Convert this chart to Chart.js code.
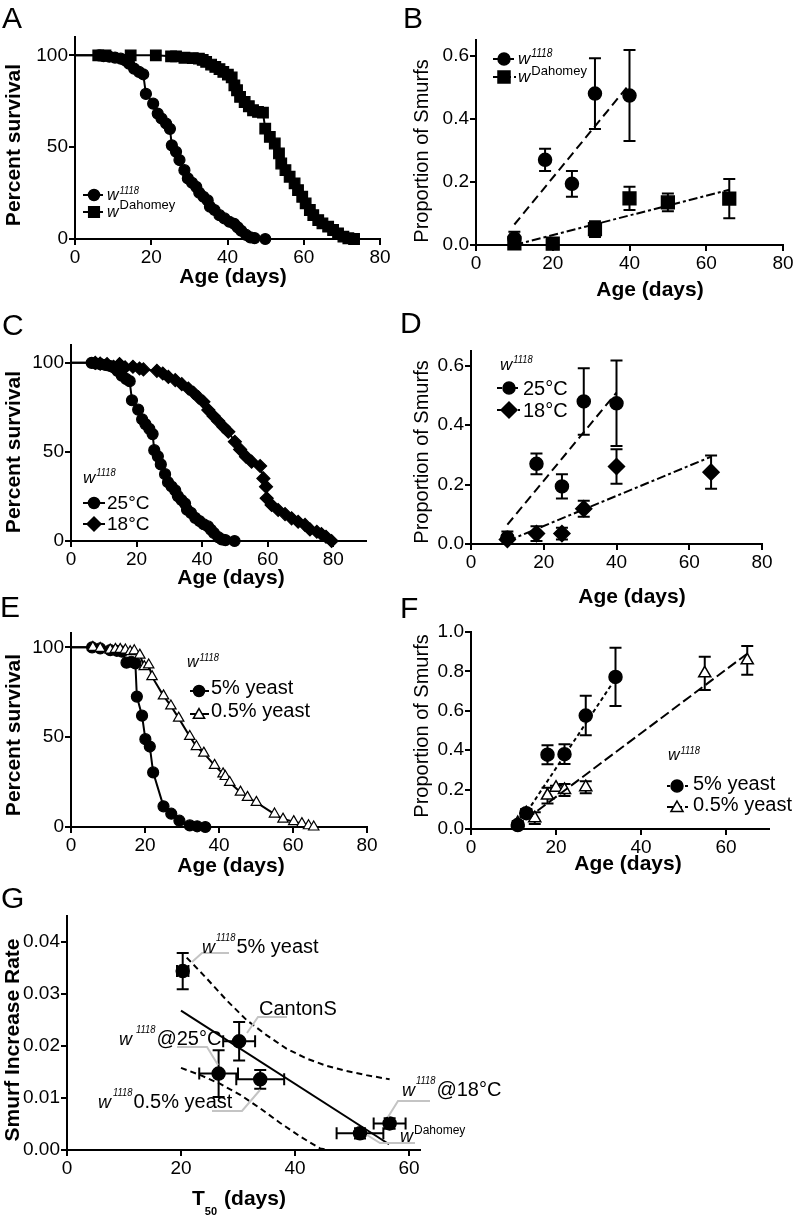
<!DOCTYPE html>
<html>
<head>
<meta charset="utf-8">
<script src="https://cdn.jsdelivr.net/npm/chart.js@4.4.1/dist/chart.umd.min.js"></script>
<style>
  body { margin: 0; background: #fff; width: 796px; height: 1218px; position: relative; overflow: hidden; }
  canvas { position: absolute; left: 0; top: 0; }
</style>
</head>
<body>
<canvas id="A" width="796" height="1218"></canvas>
<canvas id="B" width="796" height="1218"></canvas>
<canvas id="C" width="796" height="1218"></canvas>
<canvas id="D" width="796" height="1218"></canvas>
<canvas id="E" width="796" height="1218"></canvas>
<canvas id="F" width="796" height="1218"></canvas>
<canvas id="G" width="796" height="1218"></canvas>
<script>
// ---- survival data (A, C, E) ----
const age25 = [6.3,7.5,9,10.5,12,13.2,14.2,15.5,16.8,17.9,18.6,20.5,21.7,22.7,23.9,24.9,25.4,26.5,27.4,28.7,29.6,30.7,31.8,32.6,33.7,34.8,35.4,36.6,37.9,39.2,40.5,41.8,42.7,43.6,44.9,46,47.1,49.9];
const surv25 = [100,99.6,99.3,98.8,98.2,97.3,95.5,92.8,91,89.7,79,73.7,68.3,65.6,62.9,60,51,47.5,43,37.5,33,30.6,28.4,25.2,23,21,17.6,15.8,13,11.2,9.4,8.2,6.3,4.5,2.2,0.9,0.5,0];
const ageDah = [6.1,8,14.6,21.2,25.2,26.5,28.7,30.9,32.5,33.5,34.4,35.7,36.8,37.9,38.9,40.1,41.1,41.8,42.5,43.3,44.5,45.6,46.7,48,49.3,49.9,51.1,52.4,53.5,54.1,55.2,56.3,57.6,58.5,59.6,60.5,61.6,62.5,63.8,64.9,66.4,67.7,69,70.4,71.7,73.2];
const survDah = [100,100,100,100,99.5,99.5,98.7,98.5,98.2,97.5,96.5,95,93.7,92.5,91,89.5,88,83.7,81,77.4,74.6,72.3,70.1,69.2,68.8,60.1,55.6,52,46.6,41.1,37.5,33.9,30.3,26.6,23,19.4,15.8,13,10.3,8.5,6.7,4.9,3.1,1.3,0.4,0];
const age18 = [7.4,8.9,11,13,14.8,16.5,18.9,20.9,22.1,26.2,28,29.7,31.8,33.8,35.8,37.4,38.9,40.4,41.9,43.5,44.9,46.5,48,50,51.6,53.4,55.1,57.7,58.7,59.5,59.7,61.2,63.2,65.3,67.3,69.3,71.4,72.9,75,76.4,77.8,79.5];
const surv18 = [100,99.6,99.3,97.8,99.3,97.4,97.8,96.8,96.3,95.5,94,92.1,90.3,88,85.6,83.2,80.6,78.1,73.5,70.1,67.3,64.1,61.3,55.7,51.4,47.3,44.5,42.1,35.1,30.5,24,20.2,17.4,15.1,12.7,10.8,9,6.5,5.2,3.9,2.4,0];
const age5y = [5.7,7.9,10.6,12.4,13.8,15,16.3,17.4,17.8,19.2,20.1,21.3,22.2,25,27.1,29.3,32.1,34.1,36.3];
const surv5y = [100,99.4,98.5,98.1,97.6,91.5,92,91.1,72.6,62,48.9,44.8,30.4,11.5,7.4,3.5,0.9,0.4,0];
const age05y = [5.9,7.9,10.6,12,13.3,14.7,16,17.1,18.6,19.8,21,21.9,25,27,29.1,32.1,33.9,35.9,38.8,41.1,41.7,42.9,45.8,47.7,50.1,55,57.3,60.2,62.4,64.2,65.6];
const surv05y = [100,99.4,98.5,98.9,98.9,98.5,97.6,98.1,95.7,89.3,90.2,83.7,73,67.4,60.6,50.4,44.8,41.1,34.3,29.6,28.1,24.8,19.4,16.5,13.7,7.2,4.4,3,1.9,0.7,0];

// ---- smurf proportions (B, D, F) ----
const smAge25 = [10,18,25,31,40];
const smProp25 = [0.021,0.27,0.194,0.48,0.474];
const smErr25 = [0.021,0.035,0.041,0.112,0.144];
const smAgeDah = [10,20,31,40,50,66];
const smPropDah = [0.005,0.004,0.05,0.148,0.135,0.147];
const smErrDah = [0.01,0.003,0.025,0.037,0.028,0.062];
const smAge18 = [10,18,25,31,40,66];
const smProp18 = [0.015,0.035,0.035,0.119,0.261,0.242];
const smErr18 = [0.015,0.025,0.02,0.027,0.058,0.056];
const smAge5y = [11,13,18,22,27,34];
const smProp5y = [0.02,0.08,0.377,0.38,0.576,0.772];
const smErr5y = [0.01,0.02,0.048,0.05,0.1,0.148];
const smAge05y = [11,13,15,18,20,22,27,55,65];
const smProp05y = [0.03,0.08,0.055,0.17,0.21,0.198,0.212,0.79,0.856];
const smErr05y = [0.01,0.02,0.03,0.04,0.01,0.03,0.03,0.085,0.073];
// regression lines as drawn (end points)
const fit25X = [10,40], fit25Y = [0.065,0.51];
const fitDahX = [10,66], fitDahY = [0,0.175];
const fit18X = [10,66], fit18Y = [0.01,0.294];
const fit5yX = [10.5,34.5], fit5yY = [0,0.78];
const fit05yX = [13,65], fit05yY = [0.05,0.89];

// ---- G: T50 vs smurf rate ----
const t50 = [20.3,30.2,26.6,33.9,51.4,56.6];
const t50Err = [1.0,2.8,3.4,4.2,4.1,2.8];
const rate = [0.0344,0.0209,0.0147,0.0136,0.0032,0.0051];
const rateErr = [0.0035,0.0037,0.0045,0.0018,0.001,0.001];
const regX = [20,56.5], regY = [0.0268,0.0011];
const ciUpX = [21,24.5,28,31.5,35,38.5,42,45.5,49,52.5,56.6];
const ciUpY = [0.037,0.033,0.0288,0.025,0.0221,0.0195,0.0176,0.0162,0.0152,0.0144,0.0136];
const ciLoX = [20,23.4,26.9,30.4,33.9,37.4,40.9,44.4,45.8];
const ciLoY = [0.0158,0.0144,0.0127,0.0106,0.008,0.0052,0.0026,0.0003,0];

const W = 796, H = 1218;
const FONT = '"Liberation Sans", Arial, Helvetica, sans-serif';
const it = s => 'italic ' + s + 'px ' + FONT;
const rg = s => s + 'px ' + FONT;
const bd = s => 'bold ' + s + 'px ' + FONT;
Chart.defaults.font.family = FONT;
Chart.defaults.color = '#000';

function pts(xs, ys) { return xs.map((x, i) => ({x: x, y: ys[i]})); }

function drawMark(ctx, style, x, y, r, fill) {
  ctx.beginPath();
  if (style === 'circle') ctx.arc(x, y, r, 0, 2 * Math.PI);
  else if (style === 'rect') { const s = r * Math.SQRT1_2; ctx.rect(x - s, y - s, 2 * s, 2 * s); }
  else if (style === 'rectRot') { ctx.moveTo(x - r, y); ctx.lineTo(x, y - r); ctx.lineTo(x + r, y); ctx.lineTo(x, y + r); ctx.closePath(); }
  else if (style === 'triangle') { ctx.moveTo(x, y - r); ctx.lineTo(x + r * 0.866, y + r / 2); ctx.lineTo(x - r * 0.866, y + r / 2); ctx.closePath(); }
  ctx.fillStyle = fill; ctx.fill();
  ctx.strokeStyle = '#000'; ctx.lineWidth = 1.5; ctx.stroke();
}

// error bars under the markers
const errorBars = {
  id: 'errorBars',
  beforeDatasetsDraw(chart) {
    const ctx = chart.ctx, xs = chart.scales.x, ys = chart.scales.y;
    ctx.save();
    ctx.strokeStyle = '#000'; ctx.lineWidth = 2;
    chart.data.datasets.forEach(ds => {
      ds.data.forEach((p, i) => {
        const px = xs.getPixelForValue(p.x), py = ys.getPixelForValue(p.y);
        ctx.beginPath();
        if (ds.errY) {
          const t = ys.getPixelForValue(p.y + ds.errY[i]), b = ys.getPixelForValue(p.y - ds.errY[i]);
          ctx.moveTo(px, t); ctx.lineTo(px, b);
          ctx.moveTo(px - 6, t); ctx.lineTo(px + 6, t);
          ctx.moveTo(px - 6, b); ctx.lineTo(px + 6, b);
        }
        if (ds.errX) {
          const l = xs.getPixelForValue(p.x - ds.errX[i]), r = xs.getPixelForValue(p.x + ds.errX[i]);
          ctx.moveTo(l, py); ctx.lineTo(r, py);
          ctx.moveTo(l, py - 6); ctx.lineTo(l, py + 6);
          ctx.moveTo(r, py - 6); ctx.lineTo(r, py + 6);
        }
        ctx.stroke();
      });
    });
    ctx.restore();
  }
};

// titles, legends, letters and notes, in page pixels
const decor = {};
const decorPlugin = {
  id: 'decor',
  afterDraw(chart) {
    const d = decor[chart.canvas.id];
    if (!d) return;
    const ctx = chart.ctx;
    ctx.save();
    (d.lines || []).forEach(l => {
      ctx.save();
      ctx.strokeStyle = l.color || '#000'; ctx.lineWidth = 2;
      ctx.setLineDash(l.dash || []);
      ctx.beginPath();
      l.pts.forEach((p, i) => i ? ctx.lineTo(p[0], p[1]) : ctx.moveTo(p[0], p[1]));
      ctx.stroke();
      ctx.restore();
    });
    (d.marks || []).forEach(m => drawMark(ctx, m.style, m.x, m.y, m.r, m.fill || '#000'));
    ctx.fillStyle = '#000'; ctx.textAlign = 'left'; ctx.textBaseline = 'alphabetic';
    (d.texts || []).forEach(t => {
      let x = t.x;
      t.parts.forEach(p => {
        const sx = p[4] || 1;
        ctx.font = p[1];
        ctx.save();
        ctx.translate(x, t.y + (p[2] || 0));
        ctx.scale(sx, 1);
        ctx.fillText(p[0], 0, 0);
        ctx.restore();
        x += ctx.measureText(p[0]).width * sx + (p[3] || 0);
      });
    });
    (d.titles || []).forEach(t => {
      ctx.save();
      ctx.translate(t.x, t.y);
      if (t.rot) ctx.rotate(-Math.PI / 2);
      ctx.font = t.font; ctx.textAlign = 'center'; ctx.textBaseline = 'middle';
      ctx.fillText(t.text, 0, 0);
      ctx.restore();
    });
    ctx.restore();
  }
};

function axis(which, min, max, ticks, dec, size) {
  return {
    type: 'linear', min: min, max: max,
    border: {display: true, color: '#000', width: 2},
    grid: {drawOnChartArea: false, drawTicks: true, tickLength: 6, color: '#000', lineWidth: 2},
    ticks: {font: {size: 19}, color: '#000', padding: 1, maxRotation: 0, autoSkip: false,
      callback: v => Number(v).toFixed(dec)},
    afterBuildTicks: s => { s.ticks = ticks.map(v => ({value: v})); },
    afterFit: s => {
      if (which === 'x') s.height = size; else s.width = size;
      s.paddingLeft = s.paddingRight = s.paddingTop = s.paddingBottom = 0;
    }
  };
}

// area = [left, top, right, bottom] of the plot box on the page
function panel(id, area, xa, ya, datasets) {
  new Chart(document.getElementById(id), {
    type: 'scatter',
    data: {datasets: datasets},
    options: {
      responsive: false, animation: false, events: [],
      layout: {padding: {left: 0, top: area[1], right: W - area[2], bottom: 0}},
      plugins: {legend: {display: false}, tooltip: {enabled: false}},
      scales: {
        x: axis('x', xa[0], xa[1], xa[2], xa[3], H - area[3]),
        y: axis('y', ya[0], ya[1], ya[2], ya[3], area[0])
      }
    },
    plugins: [errorBars, decorPlugin]
  });
}

function survival(xs, ys, style, r, fill) {
  return {
    data: [{x: 0, y: 100}].concat(pts(xs, ys)),
    showLine: true, borderColor: '#000', borderWidth: 2, clip: false,
    pointStyle: style, pointRadius: c => c.dataIndex === 0 ? 0 : r,
    pointBackgroundColor: fill, pointBorderColor: '#000', pointBorderWidth: 1.2
  };
}
function marks(xs, ys, ex, ey, style, r, fill) {
  return {
    data: pts(xs, ys), errX: ex, errY: ey, showLine: false, clip: false,
    pointStyle: style, pointRadius: r,
    pointBackgroundColor: fill, pointBorderColor: '#000', pointBorderWidth: 1.5
  };
}
function line(xs, ys, dash) {
  return {data: pts(xs, ys), showLine: true, borderColor: '#000', borderWidth: 2,
    borderDash: dash, pointRadius: 0, clip: false};
}

const DASH = [9, 5], DASHDOT = [9, 3, 3, 3], DOTS = [4, 3], LONG = [10, 4];
const sup1118 = (dy, s) => ['1118', it(s || 11), dy, 1, 0.85];

// ---------- A ----------
decor.A = {
  lines: [{pts: [[83, 195], [103, 195]]}, {pts: [[83, 212], [103, 212]]}],
  marks: [{style: 'circle', x: 94, y: 195, r: 5.5}, {style: 'rect', x: 94, y: 212, r: 7.5}],
  texts: [
    {x: 2, y: 28, parts: [['A', rg(30)]]},
    {x: 107, y: 200, parts: [['w', it(16), 0, 1], sup1118(-6)]},
    {x: 107, y: 217, parts: [['w', it(16), 0, 1], ['Dahomey', rg(13), -8]]}
  ],
  titles: [
    {text: 'Percent survival', x: 14, y: 145, rot: true, font: bd(21)},
    {text: 'Age (days)', x: 233, y: 277, font: bd(21)}
  ]
};
panel('A', [75, 37, 380, 239], [0, 80, [0, 20, 40, 60, 80], 0], [0, 110, [0, 50, 100], 0], [
  survival(ageDah, survDah, 'rect', 7.5, '#000'),
  survival(age25, surv25, 'circle', 5.5, '#000')
]);

// ---------- B ----------
decor.B = {
  lines: [{pts: [[493, 59], [516, 59]], dash: [5, 3]}, {pts: [[493, 77], [516, 77]], dash: [5, 3, 2, 3]}],
  marks: [{style: 'circle', x: 504, y: 59, r: 6}, {style: 'rect', x: 504, y: 77, r: 8.5}],
  texts: [
    {x: 403, y: 28, parts: [['B', rg(30)]]},
    {x: 518, y: 64, parts: [['w', it(17), 0, 1], sup1118(-7, 12)]},
    {x: 518, y: 82, parts: [['w', it(17), 0, 1], ['Dahomey', rg(13), -7]]}
  ],
  titles: [
    {text: 'Proportion of Smurfs', x: 422, y: 151, rot: true, font: rg(20)},
    {text: 'Age (days)', x: 650, y: 290, font: bd(21)}
  ]
};
panel('B', [476, 40, 783, 245], [0, 80, [0, 20, 40, 60, 80], 0], [0, 0.65, [0, 0.2, 0.4, 0.6], 1], [
  line(fit25X, fit25Y, DASH),
  line(fitDahX, fitDahY, DASHDOT),
  marks(smAge25, smProp25, null, smErr25, 'circle', 6.5, '#000'),
  marks(smAgeDah, smPropDah, null, smErrDah, 'rect', 9, '#000')
]);

// ---------- C ----------
decor.C = {
  lines: [{pts: [[83, 503], [105, 503]]}, {pts: [[83, 524], [105, 524]]}],
  marks: [{style: 'circle', x: 94, y: 503, r: 5.5}, {style: 'rectRot', x: 94, y: 524, r: 7}],
  texts: [
    {x: 2, y: 335, parts: [['C', rg(30)]]},
    {x: 83, y: 483, parts: [['w', it(17), 0, 1], sup1118(-7)]},
    {x: 107, y: 509, parts: [['25°C', rg(19)]]},
    {x: 107, y: 530, parts: [['18°C', rg(19)]]}
  ],
  titles: [
    {text: 'Percent survival', x: 14, y: 452, rot: true, font: bd(21)},
    {text: 'Age (days)', x: 231, y: 578, font: bd(21)}
  ]
};
panel('C', [71, 345, 366, 541], [0, 90, [0, 20, 40, 60, 80], 0], [0, 110, [0, 50, 100], 0], [
  survival(age18, surv18, 'rectRot', 6.5, '#000'),
  survival(age25, surv25, 'circle', 5.5, '#000')
]);

// ---------- D ----------
decor.D = {
  lines: [{pts: [[497, 388], [521, 388]], dash: [5, 3]}, {pts: [[497, 410], [521, 410]], dash: [5, 3, 2, 3]}],
  marks: [{style: 'circle', x: 509, y: 388, r: 6}, {style: 'rectRot', x: 509, y: 410, r: 8}],
  texts: [
    {x: 400, y: 333, parts: [['D', rg(30)]]},
    {x: 500, y: 370, parts: [['w', it(17), 0, 1], sup1118(-7)]},
    {x: 523, y: 395, parts: [['25°C', rg(20)]]},
    {x: 523, y: 417, parts: [['18°C', rg(20)]]}
  ],
  titles: [
    {text: 'Proportion of Smurfs', x: 422, y: 452, rot: true, font: rg(20)},
    {text: 'Age (days)', x: 632, y: 597, font: bd(21)}
  ]
};
panel('D', [471, 351, 762, 544], [0, 80, [0, 20, 40, 60, 80], 0], [0, 0.65, [0, 0.2, 0.4, 0.6], 1], [
  line(fit25X, fit25Y, DASH),
  line(fit18X, fit18Y, DASHDOT),
  marks(smAge25, smProp25, null, smErr25, 'circle', 6.5, '#000'),
  marks(smAge18, smProp18, null, smErr18, 'rectRot', 8, '#000')
]);

// ---------- E ----------
decor.E = {
  lines: [{pts: [[190, 691], [209, 691]]}, {pts: [[190, 714], [209, 714]]}],
  marks: [{style: 'circle', x: 199, y: 691, r: 5.5}, {style: 'triangle', x: 199, y: 715, r: 6.5, fill: '#fff'}],
  texts: [
    {x: 0, y: 617, parts: [['E', rg(30)]]},
    {x: 187, y: 667, parts: [['w', it(16), 0, 1], sup1118(-6)]},
    {x: 211, y: 694, parts: [['5% yeast', rg(20)]]},
    {x: 211, y: 717, parts: [['0.5% yeast', rg(20)]]}
  ],
  titles: [
    {text: 'Percent survival', x: 14, y: 735, rot: true, font: bd(21)},
    {text: 'Age (days)', x: 231, y: 866, font: bd(21)}
  ]
};
panel('E', [71, 633, 367, 827], [0, 80, [0, 20, 40, 60, 80], 0], [0, 108, [0, 50, 100], 0], [
  survival(age05y, surv05y, 'triangle', 6, '#fff'),
  survival(age5y, surv5y, 'circle', 5.5, '#000')
]);

// ---------- F ----------
decor.F = {
  lines: [{pts: [[667, 786], [688, 786]], dash: [3, 3]}, {pts: [[667, 807], [688, 807]], dash: [6, 3]}],
  marks: [{style: 'circle', x: 677, y: 786, r: 6}, {style: 'triangle', x: 677, y: 808, r: 7, fill: '#fff'}],
  texts: [
    {x: 400, y: 618, parts: [['F', rg(30)]]},
    {x: 668, y: 760, parts: [['w', it(16), 0, 1], sup1118(-6)]},
    {x: 693, y: 790, parts: [['5% yeast', rg(20)]]},
    {x: 693, y: 811, parts: [['0.5% yeast', rg(20)]]}
  ],
  titles: [
    {text: 'Proportion of Smurfs', x: 422, y: 726, rot: true, font: rg(20)},
    {text: 'Age (days)', x: 628, y: 864, font: bd(21)}
  ]
};
panel('F', [471, 632, 768.5, 829], [0, 70, [0, 20, 40, 60], 0], [0, 1.0, [0, 0.2, 0.4, 0.6, 0.8, 1.0], 1], [
  line(fit5yX, fit5yY, DOTS),
  line(fit05yX, fit05yY, LONG),
  marks(smAge5y, smProp5y, null, smErr5y, 'circle', 6.5, '#000'),
  marks(smAge05y, smProp05y, null, smErr05y, 'triangle', 7, '#fff')
]);

// ---------- G ----------
const GREY = '#c4c4c4';
decor.G = {
  lines: [
    {pts: [[192, 962], [202, 953], [229, 953]], color: GREY},
    {pts: [[247, 1033], [258, 1017], [287, 1017]], color: GREY},
    {pts: [[177, 1047], [207, 1047], [218, 1065]], color: GREY},
    {pts: [[260, 1090], [242, 1111], [212, 1111]], color: GREY},
    {pts: [[388, 1117], [398, 1101], [430, 1101]], color: GREY},
    {pts: [[367, 1135], [380, 1143], [415, 1143]], color: GREY}
  ],
  texts: [
    {x: 1, y: 908, parts: [['G', rg(30)]]},
    {x: 202, y: 953, parts: [['w', it(18), 0, 1], sup1118(-12), ['5% yeast', rg(20)]]},
    {x: 259, y: 1015, parts: [['CantonS', rg(20)]]},
    {x: 119, y: 1045, parts: [['w', it(18), 0, 4], sup1118(-12), ['@25°C', rg(20)]]},
    {x: 98, y: 1108, parts: [['w', it(18), 0, 2], sup1118(-12), ['0.5% yeast', rg(20)]]},
    {x: 402, y: 1096, parts: [['w', it(18), 0, 1], sup1118(-12), ['@18°C', rg(20)]]},
    {x: 400, y: 1142, parts: [['w', it(18), 0, 1], ['Dahomey', rg(12), -8]]},
    {x: 192, y: 1205, parts: [['T', bd(21), 0, 0], ['50', bd(11), 10, 7], ['(days)', bd(21)]]}
  ],
  titles: [
    {text: 'Smurf Increase Rate', x: 13, y: 1040, rot: true, font: bd(21)}
  ]
};
panel('G', [67, 916, 420.4, 1150], [0, 62, [0, 20, 40, 60], 0], [0, 0.045, [0, 0.01, 0.02, 0.03, 0.04], 2], [
  line(ciUpX, ciUpY, [6, 4]),
  line(ciLoX, ciLoY, [6, 4]),
  line(regX, regY, []),
  marks(t50, rate, t50Err, rateErr, 'circle', 6.5, '#000')
]);
</script>
</body>
</html>
